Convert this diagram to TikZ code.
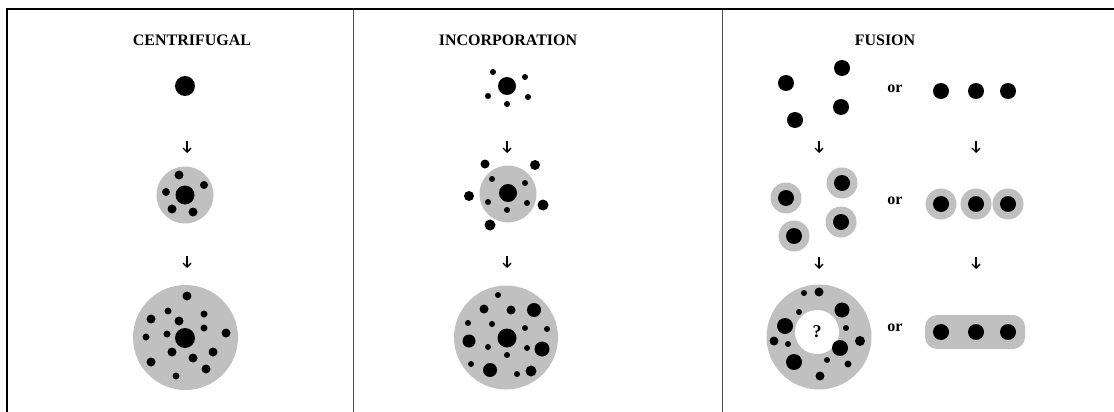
\documentclass[tikz,border=0pt]{standalone}
\usepackage{fontspec}
\setmainfont{Liberation Serif}
\usepackage{xcolor}
\usetikzlibrary{arrows.meta,positioning}

\definecolor{cellgrey}{RGB}{192,192,192}

\begin{document}
\begin{tikzpicture}[
  x=1pt, y=-1pt,
  title/.style={font=\fontsize{16}{18}\selectfont\bfseries},
  ortext/.style={font=\fontsize{16}{18}\selectfont\bfseries},
  dot/.style={circle, fill=black, inner sep=0pt, minimum size=#1pt},
  cell/.style={circle, fill=cellgrey, inner sep=0pt, minimum size=#1pt},
  arr/.style={-{Straight Barb[length=4pt,width=8pt]}, line width=1.3pt}
]
\useasboundingbox (0,0) rectangle (1114,412);

% frame and panel dividers
\draw[line width=2pt] (7,412) -- (7,9.5) -- (1114,9.5);
\draw[line width=1pt, black!70] (353,10) -- (353,412);
\draw[line width=1pt, black!70] (722,10) -- (722,412);

% titles
\node[title] (tcen) at (192,40) {CENTRIFUGAL};
\node[title] (tinc) at (508,40) {INCORPORATION};
\node[title] (tfus) at (885,40) {FUSION};

%% centrifugal
\node[dot=20] (cen1) at (185,86) {};
\node[cell=57] (cen2) at (185,195) {};
\node[dot=19] (cen2c) at (185,195) {};
\foreach \x/\y/\d [count=\k] in {179/175/9, 204/185/8, 166/192/8, 172/209/9, 193/212/9}
  \node[dot=\d] (cena\k) at (\x,\y) {};
\node[cell=105] (cen3) at (185.5,337.5) {};
\node[dot=20] (cen3c) at (185,338) {};
\foreach \x/\y/\d [count=\k] in {187/296/9, 168/311/7, 204/314/7, 151/319/9, 179/321/9,
    204/328/7, 226/333/9, 146/337/7, 167/334/7, 172/352/9, 213/352/9, 193/358/9,
    151/362/9, 206/369/9, 176/376/7}
  \node[dot=\d] (cenb\k) at (\x,\y) {};

\coordinate (cta) at (187,141); \coordinate (cba) at (187,153);
\coordinate (ctb) at (187,256); \coordinate (cbb) at (187,268);
\draw[arr] (cta) -- (cba);
\draw[arr] (ctb) -- (cbb);

%% incorporation
\node[dot=18] (inc1) at (507,86) {};
\foreach \x/\y [count=\k] in {493/72, 525/77, 488/96, 528/97, 507/104}
  \node[dot=6] (inca\k) at (\x,\y) {};
\node[cell=57] (inc2) at (508,194) {};
\node[dot=18] (inc2c) at (508,193) {};
\foreach \x/\y [count=\k] in {492/179, 525/183, 488/202, 527/203, 507/210}
  \node[dot=6] (incb\k) at (\x,\y) {};
\foreach \x/\y/\d [count=\k] in {485/164/9, 535/165/10, 469/196/10, 543/205/11, 490/225/11}
  \node[dot=\d] (incc\k) at (\x,\y) {};
\node[cell=104] (inc3) at (506,337.5) {};
\node[dot=19] (inc3c) at (507,338) {};
\foreach \x/\y/\d [count=\k] in {498/295/6, 484/309/9, 511/310/9, 534/310/14, 468/323/6,
    492/324/6, 525/328/6, 547/329/6, 469/341/13, 488/347/6, 527/348/6, 542/349/15,
    507/355/6, 471/364/6, 490/370/14, 517/374/6, 531/371/11}
  \node[dot=\d] (incd\k) at (\x,\y) {};

\coordinate (ita) at (507,141); \coordinate (iba) at (507,153);
\coordinate (itb) at (507,256); \coordinate (ibb) at (507,268);
\draw[arr] (ita) -- (iba);
\draw[arr] (itb) -- (ibb);

%% fusion, scattered
\foreach \x/\y [count=\k] in {786/83, 842/68, 841/107, 795/120}
  \node[dot=16] (fsa\k) at (\x,\y) {};
\foreach \x/\y [count=\k] in {786/198, 842/183, 841/222, 794/236} {
  \node[cell=31] (fsb\k) at (\x,\y) {};
  \node[dot=16] at (fsb\k) {};
}
\node[cell=105] (fs3) at (819,337) {};
\node[circle, fill=white, inner sep=0pt, minimum size=44pt] (hole) at (817,332) {};
\node[font=\fontsize{18}{20}\selectfont\bfseries] at (hole) {?};
\foreach \x/\y/\d [count=\k] in {804/293/6, 819/292/9, 799/312/6, 842/310/15, 785/326/16,
    846/328/6, 774/341/9, 788/344/6, 860/341/10, 840/348/16, 794/362/16, 827/360/6,
    848/364/7, 820/376/9}
  \node[dot=\d] (fsc\k) at (\x,\y) {};

\coordinate (fta) at (819,141); \coordinate (fba) at (819,153);
\coordinate (ftb) at (819,257); \coordinate (fbb) at (819,269);
\draw[arr] (fta) -- (fba);
\draw[arr] (ftb) -- (fbb);

% the "or" column
\node[ortext] (or1) at (895,89) {or};
\node[ortext] (or2) at (895,201) {or};
\node[ortext] (or3) at (895,328) {or};

%% fusion, in a row
\foreach \x [count=\k] in {941,976,1008}
  \node[dot=16] (fra\k) at (\x,91) {};
\foreach \x [count=\k] in {941,976,1008} {
  \node[cell=31] (frb\k) at (\x,204) {};
  \node[dot=16] at (frb\k) {};
}
\fill[cellgrey, rounded corners=12pt] (925,315) rectangle (1025,349);
\foreach \x [count=\k] in {941,976,1008}
  \node[dot=16] (frc\k) at (\x,332) {};

\coordinate (rta) at (976,141); \coordinate (rba) at (976,153);
\coordinate (rtb) at (976,257); \coordinate (rbb) at (976,269);
\draw[arr] (rta) -- (rba);
\draw[arr] (rtb) -- (rbb);
\end{tikzpicture}
\end{document}
